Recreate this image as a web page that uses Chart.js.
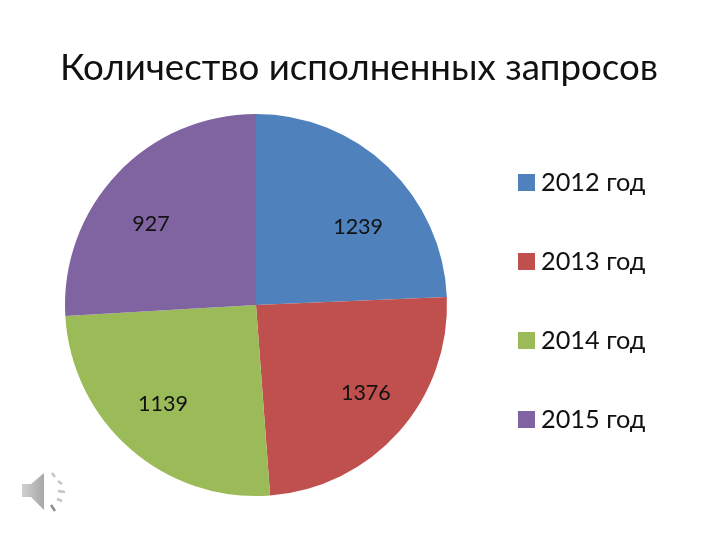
<!DOCTYPE html>
<html>
<head>
<meta charset="utf-8">
<script src="https://cdn.jsdelivr.net/npm/chart.js@4/dist/chart.umd.min.js"></script>
<style>
html,body{margin:0;padding:0;background:#fff}
canvas{display:block}
</style>
</head>
<body>
<canvas id="chart" width="720" height="540"></canvas>
<script>
const titleText = 'Количество исполненных запросов';
const categories = ['2012 год','2013 год','2014 год','2015 год'];
// slice sizes; they do not follow the printed numbers
const sliceValues = [1239,1247,1286,1320];
const printedLabels = ['1239','1376','1139','927'];
const colors = ['#4F81BD','#C0504D','#9BBB59','#8064A2'];

const FONT = 'Lato, "Noto Sans", sans-serif';
// where each printed number sits: degrees clockwise from top, fraction of radius
const labelAngles = [52.6,128.7,223.2,307.6];
const labelRadii = [0.673,0.737,0.711,0.694];

const sliceLabels = {
  id:'sliceLabels',
  afterDatasetsDraw(c){
    const arc = c.getDatasetMeta(0).data[0];
    const ctx = c.ctx;
    ctx.save();
    ctx.font = '21.5px '+FONT;
    ctx.fillStyle = '#111';
    ctx.textAlign = 'center';
    ctx.textBaseline = 'middle';
    printedLabels.forEach((t,i)=>{
      const a = labelAngles[i]*Math.PI/180, r = labelRadii[i]*arc.outerRadius;
      ctx.fillText(t, arc.x+Math.sin(a)*r, arc.y-Math.cos(a)*r);
    });
    ctx.restore();
  }
};

// title and legend by hand: the built-in ones get squeezed by the layout padding
const sideLegend = {
  id:'sideLegend',
  afterDraw(c){
    const ctx = c.ctx;
    ctx.save();
    ctx.fillStyle = '#111';
    ctx.font = '36.7px '+FONT;
    ctx.textAlign = 'center';
    ctx.textBaseline = 'middle';
    ctx.fillText(titleText,359,68);
    ctx.textAlign = 'left';
    ctx.font = '25.3px '+FONT;
    categories.forEach((t,i)=>{
      const y = 183+i*79;
      ctx.fillStyle = colors[i];
      ctx.fillRect(518,y-9,17,17);
      ctx.fillStyle = '#111';
      ctx.fillText(t,541,y);
    });
    ctx.restore();
  }
};

// little grey speaker in the corner
const speaker = {
  id:'speaker',
  afterDraw(c){
    const ctx = c.ctx;
    ctx.save();
    const g = ctx.createLinearGradient(22,0,44,0);
    g.addColorStop(0,'#cfcfcf');
    g.addColorStop(1,'#a8a8a8');
    ctx.fillStyle = g;
    ctx.beginPath();
    ctx.moveTo(22,484);ctx.lineTo(31,484);ctx.lineTo(44,473);ctx.lineTo(44,510);ctx.lineTo(31,497);ctx.lineTo(22,497);
    ctx.closePath();ctx.fill();
    ctx.strokeStyle = '#c4c4c4';
    ctx.lineWidth = 2.5;
    [[52,473,55,477],[58,481,62,484],[58,491,65,492],[57,499,62,501]].forEach(s=>{
      ctx.beginPath();ctx.moveTo(s[0],s[1]);ctx.lineTo(s[2],s[3]);ctx.stroke();
    });
    ctx.strokeStyle = '#8f8f8f';
    ctx.beginPath();ctx.moveTo(51,505);ctx.lineTo(55,511);ctx.stroke();
    ctx.restore();
  }
};

new Chart(document.getElementById('chart').getContext('2d'),{
  type:'pie',
  data:{
    labels:categories,
    datasets:[{data:sliceValues,backgroundColor:colors,borderWidth:0}]
  },
  options:{
    responsive:false,
    animation:false,
    layout:{padding:{left:0,right:208,top:114,bottom:44}},
    plugins:{
      title:{display:false},
      legend:{display:false},
      tooltip:{enabled:false}
    }
  },
  plugins:[sliceLabels,sideLegend,speaker]
});
</script>
</body>
</html>
